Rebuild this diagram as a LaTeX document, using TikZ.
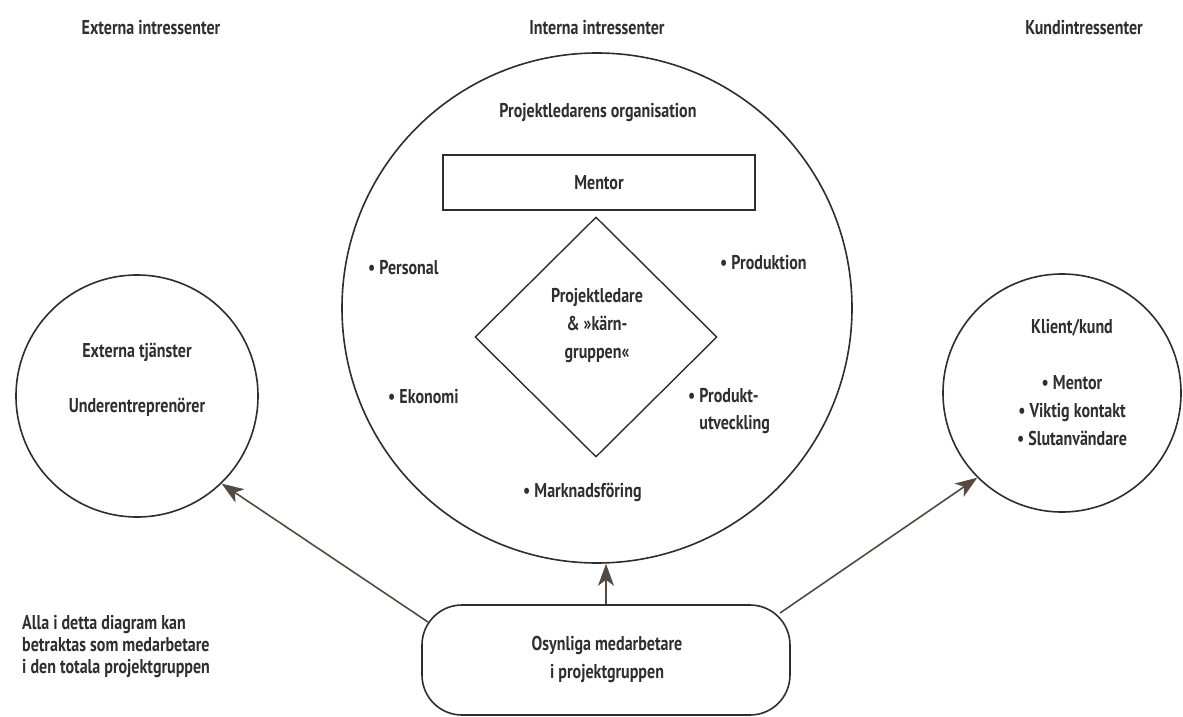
\documentclass[tikz,border=0pt]{standalone}
\usepackage{fontspec}
\setmainfont{PT Sans}[FakeStretch=0.8]
\usetikzlibrary{shapes.geometric,arrows.meta}
\definecolor{ink}{HTML}{2F2F2F}
\definecolor{linec}{HTML}{2E2E2E}
\definecolor{arrowc}{HTML}{544A42}
\begin{document}
\begin{tikzpicture}[x=1pt,y=-1pt,
 txt/.style={font=\bfseries\fontsize{20}{23}\selectfont, text=ink, inner sep=0pt, align=center},
 lst/.style={font=\bfseries\fontsize{20}{28}\selectfont, text=ink, inner sep=0pt},
 ring/.style={draw=linec, line width=1.6pt, circle, inner sep=0pt},
 frame/.style={draw=linec, line width=1.6pt, inner sep=0pt},
 arr/.style={draw=arrowc, line width=1.6pt, -{Stealth[length=22pt,width=16pt,inset=6pt]}},
]
\fill[white] (0,0) rectangle (1183,717);
\useasboundingbox (0,0) rectangle (1183,717);

% headings
\node[txt] (h1) at (151,28) {Externa intressenter};
\node[txt] (h2) at (597,28) {Interna intressenter};
\node[txt] (h3) at (1084,28) {Kundintressenter};

% circles
\node[ring, minimum size=510pt] (bigc) at (597,308) {};
\node[ring, minimum size=242pt] (leftc) at (137,396) {};
\node[ring, minimum size=238pt] (rightc) at (1062,393) {};

% big circle content
\node[txt] (org) at (598,113) {Projektledarens organisation};
\node[frame, minimum width=312pt, minimum height=55pt] (mentor) at (599,182.5) {};
\node[txt] (mentort) at (mentor.center) {Mentor};
\node[draw=linec, line width=1.4pt, diamond, minimum width=242pt, minimum height=240pt, inner sep=0pt] (dia) at (596,337) {};
\node[lst, align=center] (kern) at (597,326) {Projektledare\\\& »kärn-\\gruppen«};
\node[txt, anchor=west] (pers) at (368,268) {• Personal};
\node[txt, anchor=west] (prod) at (720,263) {• Produktion};
\node[txt, anchor=west] (eko) at (388,397) {• Ekonomi};
\node[lst, anchor=west, align=left, font=\bfseries\fontsize{20}{27}\selectfont] (produ) at (688,411) {• Produkt-\\\phantom{• }utveckling};
\node[txt, anchor=west] (mark) at (523,492) {• Marknadsföring};

% left circle content
\node[txt] (ext) at (137,352) {Externa tjänster};
\node[txt] (under) at (137,407) {Underentreprenörer};

% right circle content
\node[txt] (klient) at (1072,328) {Klient/kund};
\node[lst, align=center] (kund) at (1072,411) {• Mentor\\• Viktig kontakt\\• Slutanvändare};

% bottom box
\node[draw=linec, line width=1.6pt, rounded corners=40pt, minimum width=368pt, minimum height=110pt, inner sep=0pt] (box) at (606,660) {};
\node[lst, align=center] (boxt) at (607,659) {Osynliga medarbetare\\i projektgruppen};

% note
\node[lst, align=left, anchor=west, font=\bfseries\fontsize{20}{22}\selectfont] (note) at (22,647) {Alla i detta diagram kan\\betraktas som medarbetare\\i den totala projektgruppen};

% arrows
\coordinate (sL) at (428,622);
\coordinate (sR) at (780,613);
\draw[arr] (sL) -- (leftc.-46);
\draw[arr] (sR) -- (rightc.-135);
\draw[arr] (box.north) -- (box.north |- bigc.south);
\end{tikzpicture}
\end{document}
